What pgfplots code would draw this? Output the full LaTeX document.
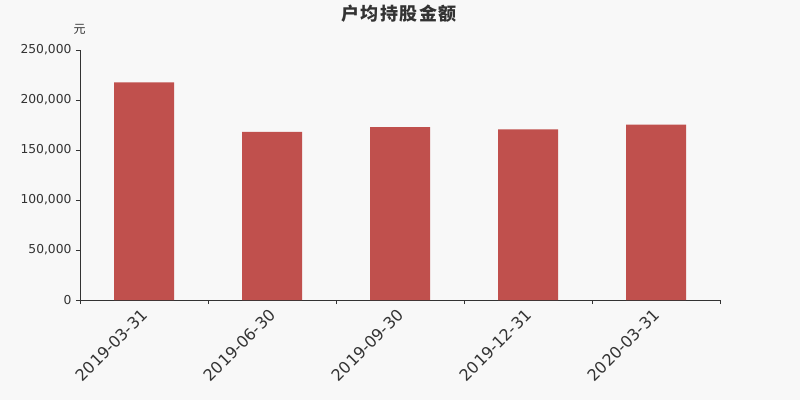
\documentclass[border=0pt]{standalone}
\usepackage{fontspec}
\setmainfont{DejaVu Sans}
\newfontfamily\cjk{Noto Sans CJK SC}
\usepackage{pgfplots}
\pgfplotsset{compat=1.18}
\definecolor{bg}{HTML}{F8F8F8}
\definecolor{barred}{HTML}{C0504D}
\definecolor{txt}{HTML}{333333}
\begin{document}
\begin{tikzpicture}[x=1pt,y=1pt]
\fill[bg] (0,0) rectangle (800,400);
\node[font=\cjk\bfseries\fontsize{18}{20}\selectfont, text=txt] at (399,386) {户\hspace{1.5pt}均\hspace{1.5pt}持\hspace{1.5pt}股\hspace{1.5pt}金\hspace{1.5pt}额};
\node[font=\cjk\fontsize{12}{14}\selectfont, text=txt] at (79.5,371) {元};
\begin{axis}[
  at={(80pt,100pt)}, anchor=origin,
  scale only axis, width=640pt, height=250pt,
  xmin=0, xmax=5, ymin=0, ymax=250000,
  axis x line=bottom, axis y line=left,
  axis line style={draw=txt, -, line width=0.8pt},
  xtick={0,1,2,3,4,5}, xticklabels={},
  ytick={0,50000,100000,150000,200000,250000},
  yticklabels={0,{50,000},{100,000},{150,000},{200,000},{250,000}},
  tick style={draw=txt, line width=0.8pt},
  tick align=outside, major tick length=4pt,
  yticklabel style={font=\fontsize{12.3}{14}\selectfont, text=txt, xshift=-1pt},
  scaled y ticks=false,
  extra x ticks={0.5,1.5,2.5,3.5,4.5},
  extra x tick labels={2019-03-31,2019-06-30,2019-09-30,2019-12-31,2020-03-31},
  extra x tick style={major tick length=0pt, tick label style={rotate=45, anchor=east, font=\fontsize{16}{18}\selectfont, text=txt, xshift=-5pt, yshift=-9pt}},
  clip=false,
]
\addplot[ybar, bar width=60pt, fill=barred, draw=none] coordinates {
  (0.5,217700) (1.5,168100) (2.5,173000) (3.5,170700) (4.5,175300)
};
\end{axis}
\end{tikzpicture}
\end{document}
